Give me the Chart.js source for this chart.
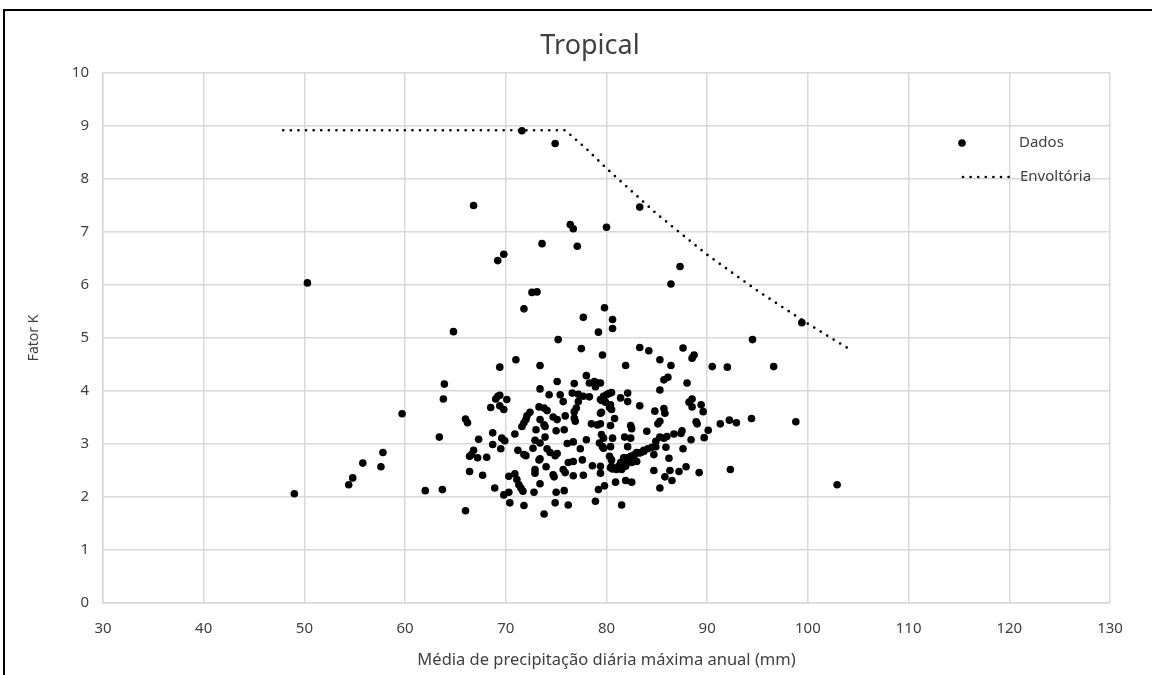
<!DOCTYPE html>
<html lang="pt">
<head>
<meta charset="utf-8">
<script src="https://cdn.jsdelivr.net/npm/chart.js@4.4.1/dist/chart.umd.min.js"></script>
<style>
  html, body { margin: 0; padding: 0; background: #fff; overflow: hidden; }
  body { width: 1152px; height: 675px; position: relative; }
  .moldura { position: absolute; left: 3px; top: 9px; width: 1200px; height: 700px; border: 2px solid #000; box-sizing: border-box; }
  .grafico { position: absolute; left: 5px; top: 11px; width: 1170px; height: 664px; }
</style>
</head>
<body>
<div class="moldura"></div>
<div class="grafico"><canvas id="graficoTropical"></canvas></div>
<script>
// Dados (precipitação em mm, fator K)
const precipitacao = [
  49.0, 50.3, 54.4, 54.8, 55.8, 57.6, 57.8, 59.7, 62.0, 63.4, 63.7, 63.8, 63.9, 64.8, 66.0, 66.0, 66.2, 66.4, 66.4, 66.6,
  66.8, 66.8, 67.2, 67.3, 67.7, 68.1, 68.5, 68.7, 68.7, 68.9, 69.0, 69.2, 69.2, 69.4, 69.4, 69.4, 69.5, 69.6, 69.8, 69.8,
  69.8, 69.9, 70.1, 70.3, 70.3, 70.4, 70.9, 70.9, 71.0, 71.1, 71.2, 71.3, 71.5, 71.6, 71.6, 71.7, 71.8, 71.8, 71.8, 71.8,
  72.0, 72.0, 72.1, 72.4, 72.6, 72.7, 72.8, 72.9, 72.9, 72.9, 73.0, 73.1, 73.3, 73.3, 73.4, 73.4, 73.4, 73.4, 73.4, 73.4,
  73.6, 73.8, 73.8, 73.8, 73.9, 73.9, 74.1, 74.1, 74.4, 74.9, 75.1, 74.0, 74.7, 74.8, 74.3, 74.7, 75.1, 75.0, 75.1, 75.2,
  74.9, 75.4, 75.7, 75.7, 75.9, 75.9, 75.8, 75.0, 75.8, 74.9, 76.2, 76.1, 76.2, 76.4, 76.6, 76.7, 76.7, 76.7, 76.7, 76.8,
  76.8, 76.8, 76.9, 77.0, 77.1, 77.2, 77.2, 77.4, 77.5, 77.6, 77.7, 77.7, 77.7, 78.0, 78.0, 78.3, 78.3, 78.5, 78.6, 78.8,
  78.9, 78.9, 79.1, 79.1, 79.2, 79.2, 79.3, 79.4, 79.4, 79.4, 79.4, 79.4, 79.4, 79.5, 79.5, 79.5, 79.6, 79.6, 79.7, 79.7,
  79.7, 79.7, 79.8, 79.8, 79.9, 80.0, 80.0, 80.2, 80.3, 80.3, 80.4, 80.4, 80.4, 80.4, 80.5, 80.5, 80.5, 80.5, 80.6, 80.6,
  80.6, 80.6, 80.8, 80.9, 81.0, 81.2, 81.4, 81.4, 81.5, 81.5, 81.6, 81.7, 81.8, 81.9, 81.9, 81.9, 82.0, 82.1, 82.1, 82.1,
  82.1, 82.4, 82.4, 82.4, 82.5, 82.5, 82.5, 82.7, 82.8, 83.0, 83.0, 83.3, 83.3, 83.3, 83.3, 83.4, 83.7, 83.7, 84.0, 84.1,
  84.2, 84.5, 84.7, 84.7, 84.8, 84.9, 84.9, 85.1, 85.3, 85.3, 85.3, 85.3, 85.3, 85.7, 85.7, 85.7, 85.8, 85.8, 85.9, 86.0,
  86.1, 86.2, 86.3, 86.4, 86.4, 86.5, 86.7, 87.2, 87.3, 87.4, 87.5, 87.6, 87.6, 87.9, 88.0, 88.2, 88.4, 88.5, 88.7, 88.5,
  88.5, 89.0, 88.9, 89.2, 89.4, 89.6, 89.7, 90.1, 90.5, 91.3, 92.0, 92.2, 92.3, 92.9, 94.4, 94.5, 96.6, 98.8, 99.4, 102.9
];
const fatorK = [
  2.06, 6.04, 2.23, 2.36, 2.64, 2.57, 2.84, 3.57, 2.12, 3.13, 2.14, 3.85, 4.13, 5.12, 1.74, 3.47, 3.40, 2.48, 2.77, 2.80,
  2.88, 7.50, 2.74, 3.09, 2.41, 2.75, 3.69, 3.21, 2.99, 2.17, 3.85, 3.90, 6.46, 3.92, 3.72, 4.45, 2.91, 3.11, 3.65, 6.58,
  2.04, 3.06, 3.84, 2.39, 2.09, 1.89, 3.19, 2.44, 4.59, 2.33, 2.88, 2.23, 2.17, 3.33, 8.91, 2.11, 3.40, 2.80, 1.84, 5.55,
  3.46, 2.78, 3.53, 3.60, 5.86, 2.92, 2.09, 3.07, 2.52, 2.45, 3.27, 5.87, 3.70, 2.70, 4.48, 4.04, 3.46, 3.02, 2.72, 2.25,
  6.78, 3.68, 1.68, 3.36, 3.33, 3.13, 3.63, 2.91, 2.84, 2.78, 2.82, 2.57, 2.42, 2.38, 3.93, 3.51, 3.46, 3.25, 4.18, 4.97,
  8.67, 3.93, 3.80, 2.52, 2.46, 3.53, 3.27, 2.09, 2.12, 1.89, 1.85, 3.01, 2.65, 7.14, 3.96, 7.06, 3.04, 2.67, 2.40, 4.14,
  3.61, 3.49, 3.43, 3.68, 6.73, 3.94, 3.80, 2.91, 4.80, 2.70, 3.90, 2.41, 5.39, 4.29, 3.08, 4.15, 3.89, 3.38, 2.59, 4.18,
  4.08, 1.92, 4.15, 3.36, 5.11, 2.14, 3.02, 4.15, 3.84, 3.58, 3.38, 2.58, 2.45, 3.82, 3.60, 3.18, 4.68, 2.95, 3.90, 3.87,
  3.11, 2.92, 5.57, 2.21, 3.79, 7.09, 3.93, 3.95, 3.69, 2.77, 3.74, 3.35, 2.95, 2.55, 3.97, 3.65, 2.70, 2.58, 5.35, 5.18,
  3.11, 2.53, 3.48, 2.28, 2.52, 2.58, 3.87, 2.65, 1.85, 2.52, 2.65, 2.74, 3.13, 4.48, 2.58, 2.31, 2.74, 3.96, 3.80, 2.95,
  2.71, 3.35, 3.11, 2.77, 3.29, 2.65, 2.28, 2.78, 2.80, 2.84, 2.67, 7.47, 4.82, 3.72, 2.83, 2.84, 2.86, 2.88, 3.24, 2.91,
  4.76, 2.94, 2.80, 2.50, 3.62, 3.05, 2.95, 3.38, 4.59, 4.02, 3.43, 3.13, 2.17, 4.21, 3.67, 3.11, 3.58, 2.38, 2.94, 3.14,
  4.26, 2.73, 2.50, 6.02, 4.48, 2.31, 3.19, 2.48, 6.35, 3.20, 3.25, 4.81, 2.91, 2.57, 4.15, 3.79, 3.08, 4.62, 4.68, 3.85,
  3.70, 3.38, 3.42, 2.46, 3.74, 3.61, 3.12, 3.26, 4.46, 3.38, 4.45, 3.45, 2.52, 3.40, 3.48, 4.97, 4.46, 3.42, 5.29, 2.23
];

// Envoltória
const envX = [47.9, 75.9, 78, 80, 85, 90, 95, 100, 104.2];
const envY = [8.92, 8.92, 8.57, 8.2, 7.34, 6.57, 5.89, 5.27, 4.78];

const xTicks = [30, 40, 50, 60, 70, 80, 90, 100, 110, 120, 130];
const yTicks = [0, 1, 2, 3, 4, 5, 6, 7, 8, 9, 10];

const pontos = precipitacao.map((x, i) => ({ x: x, y: fatorK[i] }));
const envoltoria = envX.map((x, i) => ({ x: x, y: envY[i] }));

const fonte = '"Noto Sans", sans-serif';
const texto = '#404040';
const grade = '#d9d9d9';

// título centrado na largura total do gráfico (como no Excel)
const tituloCentral = {
  id: 'tituloCentral',
  afterDraw(chart) {
    const c = chart.ctx;
    c.save();
    c.font = '27px ' + fonte;
    c.fillStyle = texto;
    c.textAlign = 'center';
    c.textBaseline = 'middle';
    c.fillText('Tropical', chart.width / 2, 35);
    c.restore();
  }
};

// legenda dentro da área do gráfico, à direita
const legendaInterna = {
  id: 'legendaInterna',
  afterDraw(chart) {
    const c = chart.ctx;
    c.save();
    c.font = '15px ' + fonte;
    c.textBaseline = 'middle';
    c.beginPath();
    c.arc(957, 132, 3.8, 0, Math.PI * 2);
    c.fillStyle = '#000';
    c.fill();
    c.fillStyle = texto;
    c.fillText('Dados', 1014, 132);
    c.strokeStyle = '#000';
    c.lineWidth = 2.7;
    c.lineCap = 'round';
    c.setLineDash([0, 7.6]);
    c.beginPath();
    c.moveTo(958, 166);
    c.lineTo(1008, 166);
    c.stroke();
    c.setLineDash([]);
    c.fillText('Envoltória', 1015, 166);
    c.restore();
  }
};

const ctx = document.getElementById('graficoTropical');
new Chart(ctx, {
  type: 'scatter',
  data: {
    datasets: [{
      label: 'Dados',
      data: pontos,
      backgroundColor: '#000',
      borderColor: '#000',
      pointRadius: 3.8,
      pointBorderWidth: 0,
      order: 2
    }, {
      label: 'Envoltória',
      data: envoltoria,
      showLine: true,
      borderColor: '#000',
      borderWidth: 2.7,
      borderDash: [0, 7.6],
      borderCapStyle: 'round',
      pointRadius: 0,
      tension: 0,
      order: 1
    }]
  },
  options: {
    responsive: true,
    maintainAspectRatio: false,
    animation: false,
    layout: { padding: { left: 0, right: 65, top: 62, bottom: 0 } },
    plugins: {
      legend: { display: false },
      tooltip: { enabled: false },
      title: { display: false }
    },
    scales: {
      x: {
        type: 'linear',
        min: 30,
        max: 130,
        afterBuildTicks: (s) => { s.ticks = xTicks.map(v => ({ value: v })); },
        afterFit: (s) => { s.height = 72; },
        grid: { color: grade, lineWidth: 1.5, drawTicks: false },
        border: { color: grade, width: 1.5 },
        ticks: { color: texto, font: { family: fonte, size: 15 }, padding: 17 },
        title: {
          display: true,
          text: 'Média de precipitação diária máxima anual (mm)',
          color: texto,
          font: { family: fonte, size: 16.5 },
          padding: { top: 0, bottom: 5 }
        }
      },
      y: {
        type: 'linear',
        min: 0,
        max: 10,
        afterBuildTicks: (s) => { s.ticks = yTicks.map(v => ({ value: v })); },
        afterFit: (s) => { s.width = 98; },
        grid: { color: grade, lineWidth: 1.5, drawTicks: false },
        border: { color: grade, width: 1.5 },
        ticks: { color: texto, font: { family: fonte, size: 15 }, padding: 14 },
        title: {
          display: true,
          text: 'Fator K',
          color: texto,
          font: { family: fonte, size: 14 },
          padding: { top: 21, bottom: 0 }
        }
      }
    }
  },
  plugins: [tituloCentral, legendaInterna]
});
</script>
</body>
</html>
